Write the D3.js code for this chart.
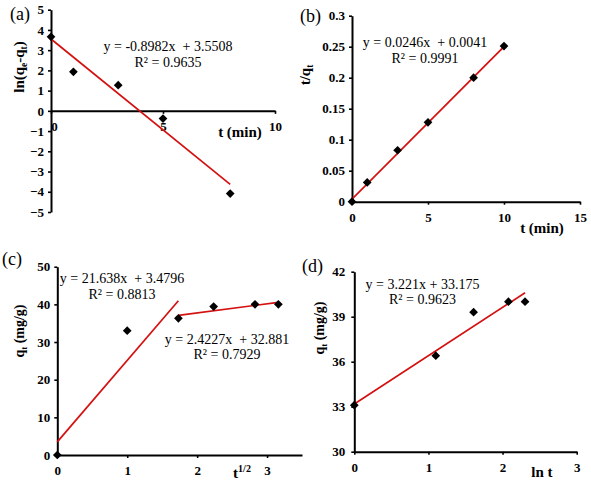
<!DOCTYPE html>
<html><head><meta charset="utf-8">
<script src="https://cdn.jsdelivr.net/npm/d3@7/dist/d3.min.js"></script>
<style>
body{margin:0;background:#fff;}
svg{display:block;}
text{font-family:"Liberation Serif","Times New Roman",serif;fill:#000;}
</style></head>
<body>
<svg id="c" width="591" height="483"></svg>
<script>
// ---------- data ----------
// (a) pseudo-first-order
const tA = [0, 1, 3, 5, 8];
const lnA = [3.66, 1.93, 1.27, -0.38, -4.09];
const fitA = {slope: -0.8982, intercept: 3.5508, x0: 0, x1: 8};
const eqA = ["y = -0.8982x  + 3.5508", "R² = 0.9635"];
const xTicksA = [0, 5, 10];
const yTicksA = [-5, -4, -3, -2, -1, 0, 1, 2, 3, 4, 5];

// (b) pseudo-second-order
const tB = [0, 1, 3, 5, 8, 10];
const tqB = [0, 0.031, 0.083, 0.128, 0.200, 0.251];
const fitB = {slope: 0.0246, intercept: 0.0041, x0: 0, x1: 10};
const eqB = ["y = 0.0246x  + 0.0041", "R² = 0.9991"];
const xTicksB = [0, 5, 10, 15];
const yTicksB = [0, 0.05, 0.1, 0.15, 0.2, 0.25, 0.3];

// (c) intraparticle diffusion
const sqrtC = [0, 1, 1.732, 2.236, 2.828, 3.162];
const qC = [0, 33.0, 36.3, 39.4, 40.0, 40.0];
const fitC1 = {slope: 21.638, intercept: 3.4796, x0: 0, x1: 1.732};
const fitC2 = {slope: 2.4227, intercept: 32.881, x0: 1.732, x1: 3.162};
const eqC1 = ["y = 21.638x  + 3.4796", "R² = 0.8813"];
const eqC2 = ["y = 2.4227x  + 32.881", "R² = 0.7929"];
const xTicksC = [0, 1, 2, 3];
const yTicksC = [0, 10, 20, 30, 40, 50];

// (d) Elovich
const lnD = [0, 1.099, 1.609, 2.079, 2.303];
const qD = [33.1, 36.4, 39.3, 40.0, 40.0];
const fitD = {slope: 3.221, intercept: 33.175, x0: 0, x1: 2.303};
const eqD = ["y = 3.221x + 33.175", "R² = 0.9623"];
const xTicksD = [0, 1, 2, 3];
const yTicksD = [30, 33, 36, 39, 42];

// ---------- drawing ----------
const svg = d3.select("#c");
const RED = "#d41010";

function panel(o) {
  const g = svg.append("g");
  const x = d3.scaleLinear().domain(o.xDomain).range(o.xRange);
  const y = d3.scaleLinear().domain(o.yDomain).range(o.yRange);
  const xAxisY = y(o.xAxisAt);

  const ya = g.append("g").attr("transform", `translate(${o.xRange[0]},0)`)
    .call(d3.axisLeft(y).tickValues(o.yTicks).tickSize(3).tickSizeOuter(0).tickPadding(o.yPad || 4).tickFormat(o.yFmt || d3.format("")));
  const xa = g.append("g").attr("transform", `translate(0,${xAxisY})`)
    .call(d3.axisBottom(x).tickValues(o.xTicks).tickSize(3).tickSizeOuter(0).tickPadding(8).tickFormat(d3.format("")));
  [ya, xa].forEach(a => {
    a.select(".domain").attr("stroke", "#000").attr("stroke-width", 2);
    a.selectAll(".tick line").attr("stroke", "#000").attr("stroke-width", 1.6);
    a.selectAll(".tick text").attr("font-family", "Liberation Serif, serif")
      .attr("font-weight", "bold").attr("font-size", 13).attr("fill", "#000");
  });
  if (o.hideX0) xa.selectAll(".tick text").filter(d => d === 0).attr("dx", 3);

  // fit lines
  o.fits.forEach(f => {
    g.append("line")
      .attr("x1", x(f.x0)).attr("y1", y(f.slope * f.x0 + f.intercept))
      .attr("x2", x(f.x1)).attr("y2", y(f.slope * f.x1 + f.intercept))
      .attr("stroke", RED).attr("stroke-width", 1.7);
  });

  // markers
  const sym = d3.symbol().type(d3.symbolSquare).size(38);
  g.selectAll("path.pt").data(o.xs.map((v, i) => [v, o.ys[i]])).join("path")
    .attr("class", "pt").attr("d", sym)
    .attr("transform", d => `translate(${x(d[0])},${y(d[1])}) rotate(45)`)
    .attr("fill", "#000");

  // equations
  o.eqs.forEach(e => {
    e.lines.forEach((t, i) => {
      g.append("text").attr("x", e.x).attr("y", e.y + i * 15.5)
        .attr("text-anchor", "middle").attr("font-size", 14).attr("xml:space", "preserve")
        .text(t);
    });
  });

  // panel label
  g.append("text").attr("x", o.label[1]).attr("y", o.label[2])
    .attr("font-size", 18).text(o.label[0]);

  // x title
  const xt = g.append("text").attr("x", o.xTitle.x).attr("y", o.xTitle.y)
    .attr("text-anchor", "middle").attr("font-weight", "bold").attr("font-size", 15);
  o.xTitle.parts.forEach(p => {
    const s = xt.append("tspan").text(p[0]);
    if (p[1] === "sup") s.attr("font-size", 10).attr("dy", -6);
  });

  // y title
  const yt = g.append("text")
    .attr("transform", `translate(${o.yTitle.x},${o.yTitle.y}) rotate(-90)`)
    .attr("text-anchor", "middle").attr("font-weight", "bold").attr("font-size", o.yTitle.fs);
  let shifted = false;
  o.yTitle.parts.forEach(p => {
    const s = yt.append("tspan").text(p[0]);
    if (p[1] === "sub") { s.attr("font-size", o.yTitle.fs * 0.62).attr("dy", 3); shifted = true; }
    else if (shifted) { s.attr("dy", -3); shifted = false; }
  });
  return {x, y};
}

panel({
  xDomain: [0, 10], xRange: [51, 275], yDomain: [-5, 5], yRange: [212, 9.7],
  xAxisAt: 0, xTicks: xTicksA, yTicks: yTicksA, hideX0: true,
  xs: tA, ys: lnA, fits: [fitA],
  eqs: [{x: 168, y: 51, lines: eqA}],
  label: ["(a)", 10, 20],
  xTitle: {x: 240, y: 137, parts: [["t (min)"]]},
  yTitle: {x: 24, y: 67, fs: 15, parts: [["ln(q"], ["e", "sub"], ["-q"], ["t", "sub"], [")"]]}
});

panel({
  xDomain: [0, 15], xRange: [352, 580], yDomain: [0, 0.3], yRange: [201.7, 15.7],
  xAxisAt: 0, xTicks: xTicksB, yTicks: yTicksB,
  yFmt: d => String(d),
  xs: tB, ys: tqB, fits: [fitB],
  eqs: [{x: 425, y: 47, lines: eqB}],
  label: ["(b)", 300, 22],
  xTitle: {x: 542, y: 233, parts: [["t (min)"]]},
  yTitle: {x: 310, y: 75, fs: 15, parts: [["t/q"], ["t", "sub"]]}
});

panel({
  xDomain: [0, 3.5], xRange: [57.3, 302], yDomain: [0, 50], yRange: [455, 266.7],
  xAxisAt: 0, xTicks: xTicksC, yTicks: yTicksC,
  xs: sqrtC, ys: qC, fits: [fitC1, fitC2],
  eqs: [{x: 122, y: 283, lines: eqC1}, {x: 227, y: 343.5, lines: eqC2}],
  label: ["(c)", 2, 265],
  xTitle: {x: 242, y: 478, parts: [["t"], ["1/2", "sup"]]},
  yTitle: {x: 24, y: 331, fs: 14, parts: [["q"], ["t", "sub"], [" (mg/g)"]]}
});

panel({
  xDomain: [0, 3], xRange: [354.3, 576.7], yDomain: [30, 42], yRange: [451.7, 271.7],
  xAxisAt: 30, xTicks: xTicksD, yTicks: yTicksD, yPad: 6,
  xs: lnD, ys: qD, fits: [fitD],
  eqs: [{x: 422.5, y: 288.5, lines: eqD}],
  label: ["(d)", 302, 272],
  xTitle: {x: 542, y: 477, parts: [["ln t"]]},
  yTitle: {x: 324, y: 328, fs: 14, parts: [["q"], ["t", "sub"], [" (mg/g)"]]}
});
</script>
</body></html>
